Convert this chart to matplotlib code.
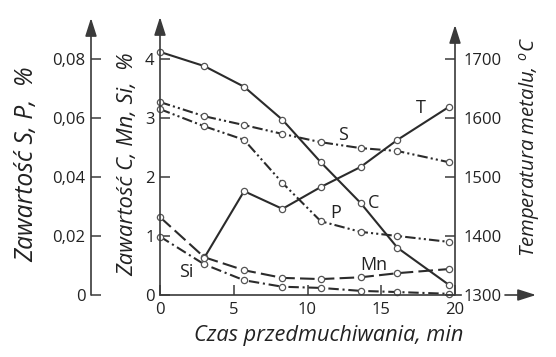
import matplotlib
matplotlib.use("Agg")
import matplotlib.pyplot as plt

plt.rcParams['font.family'] = ['Open Sans', 'DejaVu Sans']
plt.rcParams['mathtext.fontset'] = 'custom'
plt.rcParams['mathtext.it'] = 'Open Sans:italic'
plt.rcParams['mathtext.rm'] = 'Open Sans'

# ---- data ----
t = [0, 3.0, 5.7, 8.3, 10.9, 13.6, 16.1, 19.6]
C = [4.12, 3.88, 3.53, 2.97, 2.25, 1.56, 0.80, 0.17]
Mn = [1.32, 0.64, 0.42, 0.29, 0.27, 0.30, 0.37, 0.44]
Si = [0.99, 0.52, 0.25, 0.14, 0.12, 0.07, 0.05, 0.02]
S = [0.0654, 0.0606, 0.0576, 0.0546, 0.0518, 0.0498, 0.0488, 0.0450]
P = [0.0630, 0.0572, 0.0526, 0.0380, 0.0250, 0.0214, 0.0200, 0.0180]
tT = [3.0, 5.7, 8.3, 10.9, 13.6, 16.1, 19.6]
T = [1363, 1476, 1446, 1483, 1517, 1563, 1619]

x_ticks = [0, 5, 10, 15, 20]
cmnsi_ticks = [0, 1, 2, 3, 4]
sp_ticks = [0, 0.02, 0.04, 0.06, 0.08]
sp_labels = ['0', '0,02', '0,04', '0,06', '0,08']
temp_ticks = [1300, 1400, 1500, 1600, 1700]

W, H = 556, 357
fig = plt.figure(figsize=(W / 100, H / 100), dpi=100)

x0, x20, y0, ytop = 160, 455, 295, 17
upp = 59.0  # pixels per unit
ax = fig.add_axes([x0 / W, (H - y0) / H, (x20 - x0) / W, (y0 - ytop) / H])
ymax = (y0 - ytop) / upp
ax.set_xlim(0, 20)
ax.set_ylim(0, ymax)

axSP = ax.twinx()
axSP.set_ylim(0, ymax * 0.02)
axT = ax.twinx()
axT.set_ylim(1300, 1300 + ymax * 100)

col = '#2b2b2b'
acol = '#3a3a3a'
for a in (ax, axSP, axT):
    for s in a.spines.values():
        s.set_visible(False)
    a.patch.set_visible(False)

axSP.yaxis.set_ticks_position('left')
axSP.spines['left'].set_position(('axes', (91 - x0) / (x20 - x0)))
axT.yaxis.set_ticks_position('right')

tk = dict(direction='in', length=7, width=1.1, color=acol, labelsize=12, labelcolor='#222')
ax.tick_params(axis='y', pad=4, **tk)
ax.tick_params(axis='x', pad=5, **tk)
axSP.tick_params(axis='y', pad=4, **tk)
axT.tick_params(axis='y', pad=6, **tk)
ax.set_xticks(x_ticks)
ax.set_yticks(cmnsi_ticks)
axSP.set_yticks(sp_ticks)
axSP.set_yticklabels(sp_labels)
axT.set_yticks(temp_ticks)
ax.xaxis.set_ticks_position('bottom')
ax.yaxis.set_ticks_position('left')

mk = dict(marker='o', markersize=4.5, markerfacecolor='white', markeredgecolor='#555', markeredgewidth=0.9)
lw = 1.5
ax.plot(t, C, color=col, lw=lw, ls='-', **mk, clip_on=False)
ax.plot(t, Mn, color=col, lw=lw, ls=(0, (7, 2.5)), **mk, clip_on=False)
ax.plot(t, Si, color=col, lw=lw, ls=(0, (5, 1.8, 1, 1.8)), **mk, clip_on=False)
axSP.plot(t, S, color=col, lw=lw, ls=(0, (5, 1.5, 1, 1.5, 1, 1.5)), **mk, clip_on=False)
axSP.plot(t, P, color=col, lw=lw, ls=(0, (5, 1.5, 1, 1.5, 1, 1.5)), **mk, clip_on=False)
axT.plot(tT, T, color=col, lw=lw, ls='-', **mk, clip_on=False)

# curve labels
lab = dict(fontsize=13, color='#222', ha='center', va='center')
ax.text(12.4, (295 - 135) / upp, 'S', **lab)
ax.text(11.9, (295 - 213) / upp, 'P', **lab)
ax.text(14.5, (295 - 203) / upp, 'C', **lab)
ax.text(17.7, (295 - 108) / upp, 'T', **lab)
ax.text(14.5, (295 - 265) / upp, 'Mn', **lab)
ax.text(1.75, (295 - 272) / upp, 'Si', **lab)

# axis lines with arrows
def fpx(x, y):
    return (x, H - y)

ap = dict(arrowstyle='-|>,head_length=1.1,head_width=0.35', lw=1.2, color=acol,
          shrinkA=0, shrinkB=0, mutation_scale=10)
fig.add_artist(matplotlib.patches.FancyArrowPatch(fpx(91, 295), fpx(91, 18), transform=None, **ap))
fig.add_artist(matplotlib.patches.FancyArrowPatch(fpx(160, 295), fpx(160, 17), transform=None, **ap))
fig.add_artist(matplotlib.patches.FancyArrowPatch(fpx(455, 295), fpx(455, 25), transform=None, **ap))
fig.add_artist(matplotlib.patches.FancyArrowPatch(fpx(505, 295), fpx(536, 295), transform=None, **ap))
fig.add_artist(matplotlib.lines.Line2D([160, 461], [H - 295, H - 295], transform=None, lw=1.2, color=acol))

# axis titles, sized to the extents seen in the reference
renderer = fig.canvas.get_renderer()

def title(x, y, s, length, rot):
    txt = fig.text(x / W, 1 - y / H, s, rotation=rot, fontsize=13, color='#222',
                   style='italic', ha='center', va='center')
    bb = txt.get_window_extent(renderer)
    cur = bb.height if rot == 90 else bb.width
    txt.set_fontsize(13 * length / cur)
    return txt

title(27, 164, 'Zawartość S, P,  %', 195, 90)
title(128, 164, 'Zawartość C, Mn, Si,  %', 222, 90)
title(530, 147, r'Temperatura metalu, $^{o}C$', 219, 90)
title(329, 336, 'Czas przedmuchiwania, min', 268, 0)

fig.savefig('out.png', dpi=100)
